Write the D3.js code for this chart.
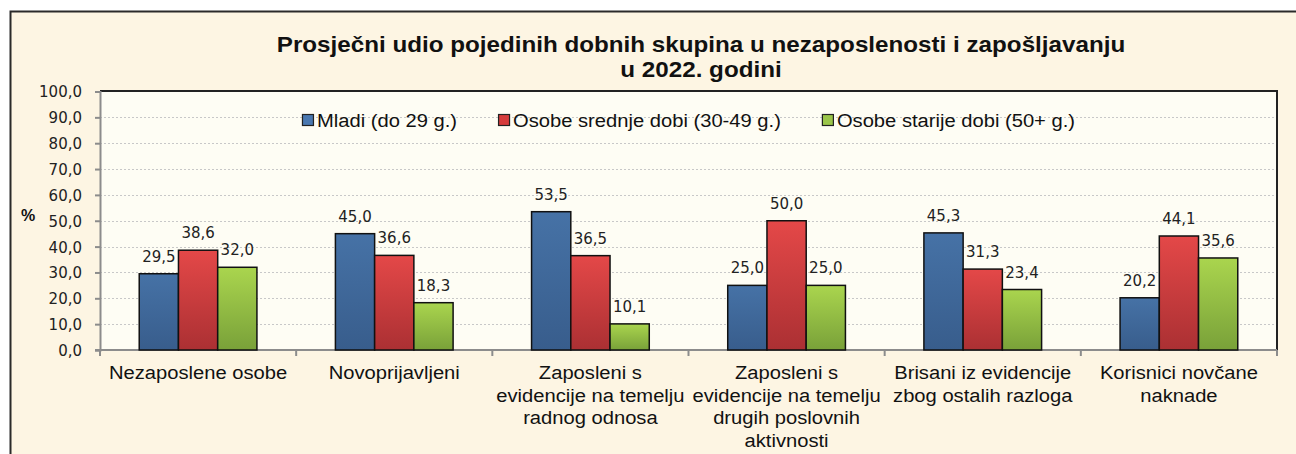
<!DOCTYPE html>
<html>
<head>
<meta charset="utf-8">
<script src="https://cdn.jsdelivr.net/npm/d3@7"></script>
<style>
  body { margin: 0; background: #fff; }
  svg { display: block; }
  .grid line { stroke: #c8c8c8; stroke-dasharray: 2,2; }
  .ytick text { font-family: "DejaVu Sans", Verdana, sans-serif; font-size: 15px; fill: #222; }
  .val { font-family: "DejaVu Sans", Verdana, sans-serif; font-size: 15px; fill: #222; }
  .cat, .leg { font-family: "Liberation Sans", Arial, sans-serif; font-size: 18px; fill: #111; }
  .title { font-family: "Liberation Sans", Arial, sans-serif; font-size: 22px; font-weight: bold; fill: #111; }
</style>
</head>
<body>
<svg width="1296" height="454"></svg>
<script>
var categories = [
  "Nezaposlene osobe",
  "Novoprijavljeni",
  "Zaposleni s\nevidencije na temelju\nradnog odnosa",
  "Zaposleni s\nevidencije na temelju\ndrugih poslovnih\naktivnosti",
  "Brisani iz evidencije\nzbog ostalih razloga",
  "Korisnici novčane\nnaknade"
];
var seriesNames = ["Mladi (do 29 g.)", "Osobe srednje dobi (30-49 g.)", "Osobe starije dobi (50+ g.)"];
var mladi   = [29.5, 45.0, 53.5, 25.0, 45.3, 20.2];
var srednje = [38.6, 36.6, 36.5, 50.0, 31.3, 44.1];
var starije = [32.0, 18.3, 10.1, 25.0, 23.4, 35.6];
var yTicks = [0, 10, 20, 30, 40, 50, 60, 70, 80, 90, 100];
var titleLines = ["Prosječni udio pojedinih dobnih skupina u nezaposlenosti i zapošljavanju", "u 2022. godini"];

var values = [mladi, srednje, starije];
var colors = [["#4672a6", "#385d8c"], ["#e44848", "#ab3033"], ["#aad54e", "#79a139"]];
var legendFill = ["#4a78b0", "#d63c3c", "#9bc64a"];

var svg = d3.select("svg"),
    width = +svg.attr("width"),
    height = +svg.attr("height");

var plot = { left: 100, right: 1277, top: 91, bottom: 350 };

var locale = d3.formatLocale({ decimal: ",", thousands: ".", grouping: [3], currency: ["", ""] });
var fmt = locale.format(".1f");

// stretch Arial-like text a bit, the source image is wider than it is tall
function widen(sel, k) {
  sel.each(function() {
    var w = this.getComputedTextLength();
    d3.select(this).attr("textLength", w * k).attr("lengthAdjust", "spacingAndGlyphs");
  });
}

var defs = svg.append("defs");
colors.forEach(function(c, i) {
  var gr = defs.append("linearGradient")
      .attr("id", "grad" + i)
      .attr("x1", 0).attr("y1", 0).attr("x2", 0).attr("y2", 1);
  gr.append("stop").attr("offset", "0%").attr("stop-color", c[0]);
  gr.append("stop").attr("offset", "100%").attr("stop-color", c[1]);
});

// outer frame
svg.append("rect")
    .attr("x", 10.5).attr("y", 11.5)
    .attr("width", width + 20).attr("height", height + 20)
    .attr("fill", "#fdf5e3")
    .attr("stroke", "#2a2a2a")
    .attr("stroke-width", 2);

svg.append("rect")
    .attr("x", plot.left).attr("y", plot.top)
    .attr("width", plot.right - plot.left).attr("height", plot.bottom - plot.top)
    .attr("fill", "#fefdf4");

var x0 = d3.scaleBand()
    .domain(d3.range(categories.length))
    .range([plot.left, plot.right]);

var x1 = d3.scaleBand()
    .domain(d3.range(seriesNames.length))
    .range([0, x0.bandwidth()])
    .paddingOuter(1);

var y = d3.scaleLinear()
    .domain([0, 100])
    .range([plot.bottom, plot.top + 0.5]);

// gridlines
svg.append("g")
    .attr("class", "grid")
  .selectAll("line")
  .data(yTicks.filter(function(t) { return t > 0 && t < 100; }))
  .enter().append("line")
    .attr("x1", plot.left).attr("x2", plot.right)
    .attr("y1", function(d) { return Math.round(y(d)) + 0.5; })
    .attr("y2", function(d) { return Math.round(y(d)) + 0.5; });

// plot border, top and right
svg.append("path")
    .attr("d", "M" + plot.left + "," + plot.top + "H" + plot.right + "V" + plot.bottom)
    .attr("fill", "none")
    .attr("stroke", "#222")
    .attr("stroke-width", 2);

// y axis
var yAxis = svg.append("g")
    .attr("transform", "translate(" + plot.left + ",0)")
    .call(d3.axisLeft(y).tickValues(yTicks).tickFormat(fmt).tickSize(5).tickPadding(13));
yAxis.select(".domain").attr("stroke", "#8c8c8c").attr("stroke-width", 2);
yAxis.selectAll(".tick line").attr("stroke", "#8c8c8c").attr("stroke-width", 2);
yAxis.selectAll(".tick").attr("class", "tick ytick");
yAxis.selectAll(".tick text").attr("fill", "#222").attr("font-size", null).attr("font-family", null).attr("dy", "0.36em");

// x axis
svg.append("line")
    .attr("x1", plot.left - 5).attr("x2", plot.right)
    .attr("y1", plot.bottom).attr("y2", plot.bottom)
    .attr("stroke", "#8c8c8c").attr("stroke-width", 2);
svg.append("g")
  .selectAll("line")
  .data(d3.range(categories.length + 1))
  .enter().append("line")
    .attr("x1", function(d) { return d < categories.length ? x0(d) : plot.right; })
    .attr("x2", function(d) { return d < categories.length ? x0(d) : plot.right; })
    .attr("y1", plot.bottom).attr("y2", plot.bottom + 6)
    .attr("stroke", "#8c8c8c").attr("stroke-width", 2);

// bars
var group = svg.append("g")
  .selectAll("g")
  .data(categories)
  .enter().append("g")
    .attr("transform", function(d, i) { return "translate(" + x0(i) + ",0)"; });

group.selectAll("rect")
  .data(function(d, i) { return values.map(function(s, j) { return { s: j, v: s[i] }; }); })
  .enter().append("rect")
    .attr("x", function(d) { return x1(d.s); })
    .attr("y", function(d) { return y(d.v); })
    .attr("width", x1.bandwidth())
    .attr("height", function(d) { return plot.bottom - y(d.v); })
    .attr("fill", function(d) { return "url(#grad" + d.s + ")"; })
    .attr("stroke", "#111")
    .attr("stroke-width", 1.5);

group.selectAll("text.val")
  .data(function(d, i) { return values.map(function(s, j) { return { s: j, v: s[i] }; }); })
  .enter().append("text")
    .attr("class", "val")
    .attr("x", function(d) { return x1(d.s) + x1.bandwidth() / 2; })
    .attr("y", function(d) { return y(d.v) - 12; })
    .attr("text-anchor", "middle")
    .text(function(d) { return fmt(d.v); });

// category labels
var cat = svg.append("g")
  .selectAll("text")
  .data(categories)
  .enter().append("text")
    .attr("class", "cat")
    .attr("text-anchor", "middle")
    .attr("x", function(d, i) { return x0(i) + x0.bandwidth() / 2; })
    .attr("y", 379);
cat.selectAll("tspan")
  .data(function(d) { return d.split("\n"); })
  .enter().append("tspan")
    .attr("x", function() { return this.parentNode.getAttribute("x"); })
    .attr("y", function(d, i) { return 379 + i * 22.5; })
    .text(function(d) { return d; });
cat.selectAll("tspan").call(widen, 1.12);

// legend
var legend = svg.append("g");
var lx = 0;
seriesNames.forEach(function(name, i) {
  var item = legend.append("g").attr("transform", "translate(" + lx + ",0)");
  item.append("rect")
      .attr("x", 0.5).attr("y", 114.5)
      .attr("width", 11).attr("height", 11)
      .attr("fill", legendFill[i])
      .attr("stroke", "#222").attr("stroke-width", 1.2);
  var t = item.append("text")
      .attr("class", "leg")
      .attr("x", 15).attr("y", 127)
      .text(name);
  t.call(widen, 1.12);
  lx += 15 + +t.attr("textLength") + 41;
});
lx -= 41;
legend.attr("transform", "translate(" + ((plot.left + plot.right) / 2 - lx / 2) + ",0)");

// title
svg.append("g")
  .selectAll("text")
  .data(titleLines)
  .enter().append("text")
    .attr("class", "title")
    .attr("text-anchor", "middle")
    .attr("x", 701)
    .attr("y", function(d, i) { return 52 + i * 25; })
    .text(function(d) { return d; })
    .call(widen, 1.1);

svg.append("text")
    .attr("x", 28).attr("y", 221)
    .attr("text-anchor", "middle")
    .attr("font-family", "Liberation Sans, Arial, sans-serif")
    .attr("font-weight", "bold")
    .attr("font-size", 16)
    .attr("fill", "#111")
    .text("%");
</script>
</body>
</html>
